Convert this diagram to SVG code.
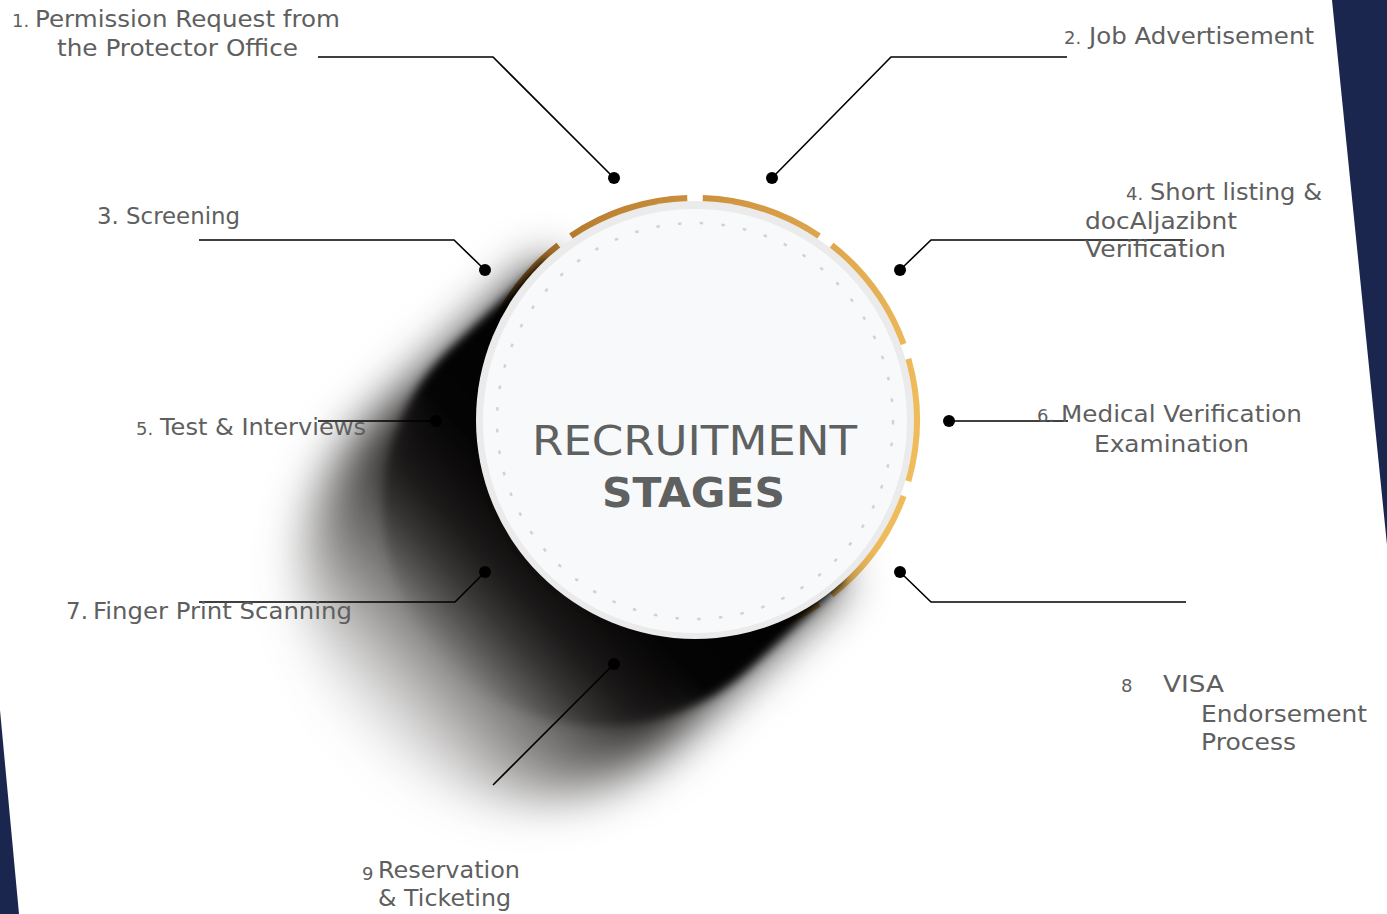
<svg xmlns="http://www.w3.org/2000/svg" width="1387" height="914" viewBox="0 0 1387 914">
<style>
.lbl{font-family:"DejaVu Sans","Noto Sans",sans-serif;font-size:23px;fill:#5f5f5f}
.num{font-family:"DejaVu Sans","Noto Sans",sans-serif;font-size:18px;fill:#5f5f5f}
.ttl{font-family:"DejaVu Sans","Noto Sans",sans-serif;font-size:41px;fill:#5f6060}
.conn{fill:none;stroke:#000;stroke-width:1.6}
.dot{fill:#000}
.seg{fill:none;stroke-width:8}
</style>
<defs>
<linearGradient id="ringG" gradientUnits="userSpaceOnUse" x1="480" y1="300" x2="910" y2="430">
<stop offset="0" stop-color="#ad7227"/>
<stop offset="0.45" stop-color="#cf9440"/>
<stop offset="1" stop-color="#efbc5c"/>
</linearGradient>
<linearGradient id="shG" gradientUnits="userSpaceOnUse" x1="695" y1="420" x2="345" y2="746">
<stop offset="0" stop-color="#0a0908" stop-opacity="1"/>
<stop offset="0.5" stop-color="#1c1a19" stop-opacity="0.95"/>
<stop offset="0.72" stop-color="#2a2725" stop-opacity="0.55"/>
<stop offset="0.9" stop-color="#3a3533" stop-opacity="0.12"/>
<stop offset="1" stop-color="#3a3533" stop-opacity="0"/>
</linearGradient>
<linearGradient id="shG2" gradientUnits="userSpaceOnUse" x1="695" y1="420" x2="440" y2="658">
<stop offset="0" stop-color="#000" stop-opacity="1"/>
<stop offset="0.5" stop-color="#050404" stop-opacity="1"/>
<stop offset="1" stop-color="#1a1817" stop-opacity="0"/>
</linearGradient>
<filter id="blur" filterUnits="userSpaceOnUse" x="100" y="100" width="950" height="850" color-interpolation-filters="sRGB">
<feGaussianBlur stdDeviation="24"/>
</filter>
<filter id="blur2" filterUnits="userSpaceOnUse" x="100" y="100" width="950" height="850" color-interpolation-filters="sRGB">
<feGaussianBlur stdDeviation="5"/>
</filter>
<linearGradient id="l5" gradientUnits="userSpaceOnUse" x1="340" y1="0" x2="420" y2="0">
<stop offset="0" stop-color="#111"/><stop offset="1" stop-color="#8a8a8a"/>
</linearGradient>
<linearGradient id="l7" gradientUnits="userSpaceOnUse" x1="300" y1="0" x2="420" y2="0">
<stop offset="0" stop-color="#111"/><stop offset="1" stop-color="#8a8a8a"/>
</linearGradient>
<linearGradient id="l9" gradientUnits="userSpaceOnUse" x1="614" y1="664" x2="493" y2="785">
<stop offset="0" stop-color="#8a8a8a"/><stop offset="1" stop-color="#3a3a3a"/>
</linearGradient>
</defs>

<rect width="1387" height="914" fill="#fff"/>
<g id="background">
<polygon points="1332,0 1387,0 1387,545" fill="#1b264f"/>
<polygon points="0,710 19,914 0,914" fill="#1b264f"/>
</g>

<g id="ring">
<path class="seg" stroke="url(#ringG)" d="M702.7,199.1 A221,221 0 0 1 818.6,236.8"/>
<path class="seg" stroke="url(#ringG)" d="M831.1,245.9 A221,221 0 0 1 902.7,344.4"/>
<path class="seg" stroke="url(#ringG)" d="M907.4,359.1 A221,221 0 0 1 907.4,480.9"/>
<path class="seg" stroke="url(#ringG)" d="M902.7,495.6 A221,221 0 0 1 831.1,594.1"/>
<path class="seg" stroke="url(#ringG)" d="M818.6,603.2 A221,221 0 0 1 702.7,640.9"/>
<path class="seg" stroke="url(#ringG)" d="M687.3,640.9 A221,221 0 0 1 571.4,603.2"/>
<path class="seg" stroke="url(#ringG)" d="M558.9,594.1 A221,221 0 0 1 487.3,495.6"/>
<path class="seg" stroke="url(#ringG)" d="M482.6,480.9 A221,221 0 0 1 482.6,359.1"/>
<path class="seg" stroke="url(#ringG)" d="M487.3,344.4 A221,221 0 0 1 558.9,245.9"/>
<path class="seg" stroke="url(#ringG)" d="M571.4,236.8 A221,221 0 0 1 687.3,199.1"/>
</g>

<g id="shadow">
<path filter="url(#blur)" fill="url(#shG)" d="M545.7,259.8 L370.1,423.4 A219,219 0 0 0 668.7,743.8 L844.3,580.2 Z"/>
<path filter="url(#blur2)" fill="url(#shG2)" d="M545.7,259.8 L450.6,348.4 A219,219 0 0 0 749.2,668.8 L844.3,580.2 Z"/>
</g>

<g id="connectors">
<polyline class="conn" points="318,57 493,57 614,178"/>
<polyline class="conn" points="1067,57 891,57 772,178"/>
<polyline class="conn" points="199,240 454,240 485,270"/>
<polyline class="conn" points="1185,240 931,240 900,270"/>
<polyline class="conn" stroke="url(#l5)" points="318,421 436,421"/>
<polyline class="conn" points="949,421 1068,421"/>
<polyline class="conn" stroke="url(#l7)" points="199,602 455,602 485,572"/>
<polyline class="conn" points="900,572 931,602 1186,602"/>
<polyline class="conn" stroke="url(#l9)" points="614,664 493,785"/>
<circle class="dot" cx="614" cy="178" r="6"/>
<circle class="dot" cx="772" cy="178" r="6"/>
<circle class="dot" cx="485" cy="270" r="6"/>
<circle class="dot" cx="900" cy="270" r="6"/>
<circle class="dot" cx="436" cy="421" r="6"/>
<circle class="dot" cx="949" cy="421" r="6"/>
<circle class="dot" cx="485" cy="572" r="6"/>
<circle class="dot" cx="900" cy="572" r="6"/>
<circle class="dot" cx="614" cy="664" r="6"/>
</g>

<g id="center">
<circle cx="695" cy="420" r="219" fill="#ebebeb"/>
<circle cx="695" cy="421" r="212" fill="#f8f9fb"/>
<circle cx="695" cy="421" r="198" fill="none" stroke="#d2d2d2" stroke-width="2.5" stroke-dasharray="3.5 18.3"/>
<text class="ttl" x="532" y="455" textLength="325" lengthAdjust="spacingAndGlyphs">RECRUITMENT</text>
<text class="ttl" x="602" y="507" font-weight="bold" textLength="183" lengthAdjust="spacingAndGlyphs">STAGES</text>
</g>

<g id="node1">
<text class="num" x="12" y="27">1.</text>
<text class="lbl" x="35" y="27" textLength="305" lengthAdjust="spacingAndGlyphs">Permission  Request  from</text>
<text class="lbl" x="57" y="56" textLength="241" lengthAdjust="spacingAndGlyphs">the Protector Office</text>
</g>
<g id="node2">
<text class="num" x="1064" y="44">2.</text>
<text class="lbl" x="1089" y="44" textLength="225" lengthAdjust="spacingAndGlyphs">Job  Advertisement</text>
</g>
<g id="node3">
<text class="lbl" x="97" y="224" textLength="143" lengthAdjust="spacingAndGlyphs">3. Screening</text>
</g>
<g id="node4">
<text class="num" x="1126" y="200">4.</text>
<text class="lbl" x="1150" y="200" textLength="172" lengthAdjust="spacingAndGlyphs">Short listing &amp;</text>
<text class="lbl" x="1085" y="229" textLength="152" lengthAdjust="spacingAndGlyphs">docAljazibnt</text>
<text class="lbl" x="1085" y="257" textLength="141" lengthAdjust="spacingAndGlyphs">Verification</text>
</g>
<g id="node5">
<text class="num" x="136" y="435">5.</text>
<text class="lbl" x="160" y="435" textLength="206" lengthAdjust="spacingAndGlyphs">Test  &amp;  Interviews</text>
</g>
<g id="node6">
<text class="num" x="1037" y="422">6.</text>
<text class="lbl" x="1061" y="422" textLength="241" lengthAdjust="spacingAndGlyphs">Medical Verification</text>
<text class="lbl" x="1094" y="452" textLength="155" lengthAdjust="spacingAndGlyphs">Examination</text>
</g>
<g id="node7">
<text class="lbl" x="66" y="619">7.</text>
<text class="lbl" x="93" y="619" textLength="259" lengthAdjust="spacingAndGlyphs">Finger Print Scanning</text>
</g>
<g id="node8">
<text class="num" x="1121" y="692">8</text>
<text class="lbl" x="1163" y="692" textLength="61" lengthAdjust="spacingAndGlyphs">VISA</text>
<text class="lbl" x="1201" y="722" textLength="166" lengthAdjust="spacingAndGlyphs">Endorsement</text>
<text class="lbl" x="1201" y="750" textLength="95" lengthAdjust="spacingAndGlyphs">Process</text>
</g>
<g id="node9">
<text class="num" x="362" y="880">9</text>
<text class="lbl" x="378" y="878" textLength="142" lengthAdjust="spacingAndGlyphs">Reservation</text>
<text class="lbl" x="378" y="906" textLength="133" lengthAdjust="spacingAndGlyphs">&amp; Ticketing</text>
</g>
</svg>
